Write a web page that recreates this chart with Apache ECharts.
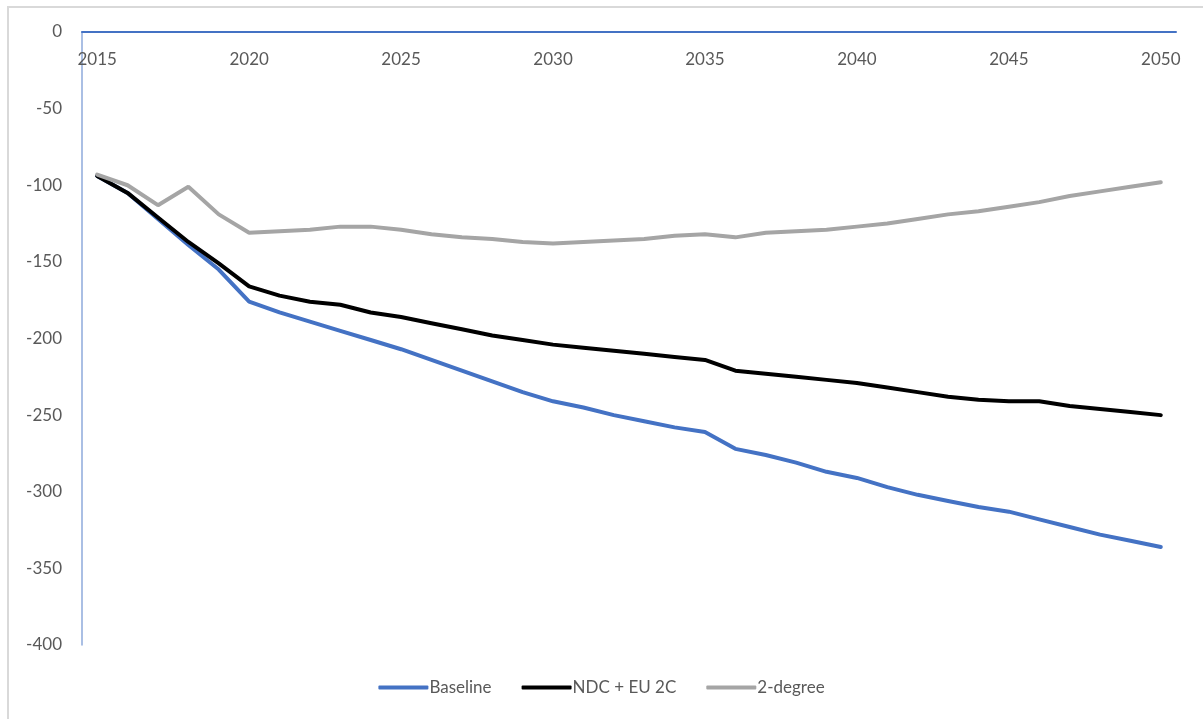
<!DOCTYPE html>
<html style="height: 100%">
<head>
    <meta charset="utf-8">
    <script src="https://cdn.jsdelivr.net/npm/echarts@6/dist/echarts.min.js"></script>
</head>
<body style="height: 100%; margin: 0; background: #fff">
<div style="position: absolute; left: 7px; top: 6px; right: 0; bottom: 0; border-top: 2px solid #d9d9d9; border-left: 2px solid #d9d9d9"></div>
<div id="container" style="position: absolute; left: 0; top: 0; width: 1203px; height: 719px"></div>
<script>
    var years = [];
    for (var y = 2015; y <= 2050; y++) years.push(String(y));

    var baseline = [-94, -105, -122, -139, -155, -176, -183, -189, -195, -201,
        -207, -214, -221, -228, -235, -241, -245, -250, -254, -258,
        -261, -272, -276, -281, -287, -291, -297, -302, -306, -310,
        -313, -318, -323, -328, -332, -336];
    var ndc = [-94, -105, -121, -137, -151, -166, -172, -176, -178, -183,
        -186, -190, -194, -198, -201, -204, -206, -208, -210, -212,
        -214, -221, -223, -225, -227, -229, -232, -235, -238, -240,
        -241, -241, -244, -246, -248, -250];
    var twoDeg = [-93, -100, -113, -101, -119, -131, -130, -129, -127, -127,
        -129, -132, -134, -135, -137, -138, -137, -136, -135, -133,
        -132, -134, -131, -130, -129, -127, -125, -122, -119, -117,
        -114, -111, -107, -104, -101, -98];

    var dom = document.getElementById("container");
    var myChart = echarts.init(dom);
    var font = 'Lato, "Noto Sans", sans-serif';

    var option = {
        animation: false,
        textStyle: {fontFamily: font},
        grid: {left: 82, right: 27, top: 32, bottom: 74},
        legend: {
            bottom: 18,
            left: 'center',
            itemWidth: 50,
            itemHeight: 4,
            itemGap: 30,
            icon: 'roundRect',
            textStyle: {color: '#595959', fontSize: 17, fontFamily: font, padding: [0, 0, 0, -4]},
            data: ['Baseline', 'NDC + EU 2C', '2-degree']
        },
        xAxis: {
            type: 'category',
            position: 'top',
            data: years,
            axisLine: {lineStyle: {color: '#4472c4', width: 2}},
            axisTick: {show: false},
            axisLabel: {
                inside: true,
                interval: 4,
                color: '#595959',
                fontSize: 17,
                fontFamily: font,
                margin: 19
            }
        },
        yAxis: {
            type: 'value',
            min: -400,
            max: 0,
            interval: 50,
            axisLine: {show: true, lineStyle: {color: '#8eaadb', width: 1.5}},
            axisTick: {show: false},
            splitLine: {show: false},
            axisLabel: {color: '#595959', fontSize: 17, fontFamily: font, margin: 20}
        },
        series: [
            {name: 'Baseline', type: 'line', data: baseline, showSymbol: false,
                itemStyle: {color: '#4472c4'}, lineStyle: {width: 4, color: '#4472c4', cap: 'round'}},
            {name: 'NDC + EU 2C', type: 'line', data: ndc, showSymbol: false,
                itemStyle: {color: '#000000'}, lineStyle: {width: 4, color: '#000000', cap: 'round'}},
            {name: '2-degree', type: 'line', data: twoDeg, showSymbol: false,
                itemStyle: {color: '#a5a5a5'}, lineStyle: {width: 4, color: '#a5a5a5', cap: 'round'}}
        ]
    };
    myChart.setOption(option);
</script>
</body>
</html>
